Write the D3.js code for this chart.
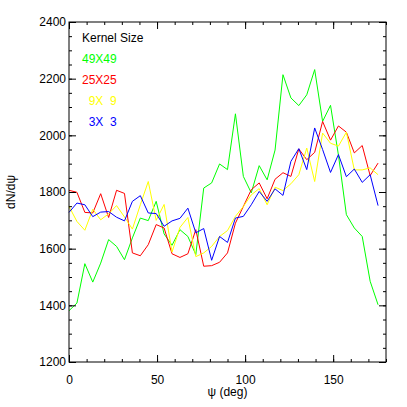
<!DOCTYPE html>
<html><head><meta charset="utf-8">
<script src="https://cdn.jsdelivr.net/npm/d3@7"></script>
<style>
html,body{margin:0;padding:0;background:#fff;}
text{font-family:"Liberation Sans",Arial,sans-serif;white-space:pre;}
</style></head>
<body><svg id="c" width="407" height="407"></svg>
<script>
const step = 4.5;
const green49 = [1381,1408,1547,1482,1549,1632,1608,1561,1638,1708,1699,1767,1652,1612,1667,1643,1579,1814,1832,1899,1879,2076,1855,1797,1893,1843,1948,2214,2132,2105,2143,2232,2049,2106,1930,1720,1673,1643,1485,1402];
const red25 = [1806,1799,1728,1726,1794,1710,1806,1795,1585,1575,1614,1685,1673,1582,1569,1582,1667,1538,1540,1552,1585,1690,1749,1808,1832,1776,1845,1868,1855,1952,1914,1940,2049,1983,2033,2011,1938,1964,1858,1902];
const yellow9 = [1749,1696,1665,1739,1702,1723,1752,1712,1669,1755,1837,1700,1756,1588,1675,1710,1572,1585,1608,1643,1664,1714,1749,1790,1812,1755,1817,1805,1829,1861,1955,1837,2008,1972,1962,2011,1878,1878,1885,1861];
const blue3 = [1728,1761,1755,1713,1729,1731,1711,1698,1767,1787,1726,1724,1679,1698,1707,1743,1656,1671,1559,1643,1622,1708,1714,1755,1802,1767,1811,1788,1908,1953,1879,2026,1950,1869,1932,1854,1881,1834,1861,1752];
const seriesNames = ["49X49","25X25","\u20079X\u20079","\u20073X\u20073"];
const seriesColors = ["#00ff00","#ff0000","#ffff00","#0000ff"];
const seriesData = [green49, red25, yellow9, blue3];
const xMajor = [0,50,100,150];
const yMajor = [1200,1400,1600,1800,2000,2200,2400];

const L=69, R=386, T=22, B=362;
const svg = d3.select("#c");
const x = d3.scaleLinear().domain([0,180]).range([L,R]);
const y = d3.scaleLinear().domain([1200,2400]).range([B,T]);
const xMinor = d3.range(0,181,10);
const yMinor = d3.range(1200,2401,50);

const line = d3.line().x((d,i)=>x(i*step)).y(d=>y(d));
seriesData.forEach((s,k)=>{
  svg.append("path").datum(s).attr("d",line).attr("fill","none")
    .attr("stroke",seriesColors[k]).attr("stroke-width",1);
});

function styleAxis(g){
  g.select(".domain").remove();
  g.selectAll("line").attr("stroke","#000");
  g.selectAll("text").attr("fill","#000").style("font-size","12px").style("font-family","Liberation Sans, Arial, sans-serif");
}
svg.append("g").attr("transform",`translate(0,${B})`).call(d3.axisBottom(x).tickValues(xMinor).tickSize(-3).tickFormat("")).call(styleAxis);
svg.append("g").attr("transform",`translate(0,${B})`).call(d3.axisBottom(x).tickValues(xMajor).tickSize(-7).tickPadding(13).tickFormat(d3.format("d"))).call(styleAxis);
svg.append("g").attr("transform",`translate(0,${T})`).call(d3.axisTop(x).tickValues(xMinor).tickSize(-3).tickFormat("")).call(styleAxis);
svg.append("g").attr("transform",`translate(0,${T})`).call(d3.axisTop(x).tickValues(xMajor).tickSize(-7).tickFormat("")).call(styleAxis);
svg.append("g").attr("transform",`translate(${L},0)`).call(d3.axisLeft(y).tickValues(yMinor).tickSize(-3).tickFormat("")).call(styleAxis);
svg.append("g").attr("transform",`translate(${L},0)`).call(d3.axisLeft(y).tickValues(yMajor).tickSize(-7).tickPadding(3).tickFormat(d3.format("d"))).call(styleAxis);
svg.append("g").attr("transform",`translate(${R},0)`).call(d3.axisRight(y).tickValues(yMinor).tickSize(-3).tickFormat("")).call(styleAxis);
svg.append("g").attr("transform",`translate(${R},0)`).call(d3.axisRight(y).tickValues(yMajor).tickSize(-7).tickFormat("")).call(styleAxis);

svg.append("rect").attr("x",L).attr("y",T).attr("width",R-L).attr("height",B-T)
  .attr("fill","none").attr("stroke","#000").attr("stroke-width",1);

svg.append("text").attr("x",(L+R)/2).attr("y",396).attr("text-anchor","middle")
  .style("font-size","12px").text("ψ (deg)");
svg.append("text").attr("transform",`translate(15,${(T+B)/2}) rotate(-90)`).attr("text-anchor","middle")
  .style("font-size","12px").text("dN/dψ");

svg.append("text").attr("x",82).attr("y",42).style("font-size","12px").attr("fill","#000").text("Kernel Size");
seriesNames.forEach((n,k)=>{
  svg.append("text").attr("x",82).attr("y",63+k*21).style("font-size","12px")
    .attr("fill",seriesColors[k]).text(n);
});
</script></body></html>
